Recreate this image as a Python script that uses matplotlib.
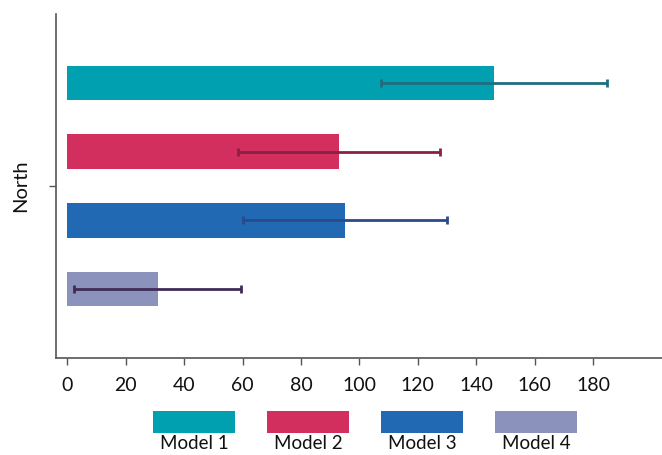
import matplotlib
matplotlib.use("Agg")
import matplotlib.pyplot as plt
from matplotlib.patches import Rectangle

plt.rcParams['font.family'] = ['Lato', 'DejaVu Sans']

category = "North"
models = ["Model 1", "Model 2", "Model 3", "Model 4"]
values = [146, 93, 95, 31]
errors = [38.7, 34.6, 35, 28.6]
bar_colors = ["#00A0B0", "#D22E5E", "#2169B3", "#8B93BC"]
err_colors = ["#1F6E7E", "#8B2046", "#2C4A8A", "#3F2B55"]
xticks = [0, 20, 40, 60, 80, 100, 120, 140, 160, 180]

fig = plt.figure(figsize=(6.62, 4.55), dpi=100)
ax = fig.add_axes([56/662, 1-358/455, 1-56/662, (358-14)/455])

offsets = [0.3, 0.1, -0.1, -0.3]
for m, v, e, c, ec, o in zip(models, values, errors, bar_colors, err_colors, offsets):
    ax.barh(o, v, height=0.1, color=c, label=m)
    ax.errorbar(v, o, xerr=e, fmt='none', ecolor=ec, elinewidth=2, capsize=3, capthick=2)

ax.set_ylim(-0.5, 0.5)
ax.set_xlim(-3.9, 203.6)
ax.set_yticks([0])
ax.set_yticklabels([category], rotation=90, va='center', fontsize=14.5)
ax.set_xticks(xticks)
ax.set_xticklabels([str(t) for t in xticks], fontsize=14)
for s in ['top', 'right']:
    ax.spines[s].set_visible(False)
for s in ['left', 'bottom']:
    ax.spines[s].set_color('#555555')
    ax.spines[s].set_linewidth(1.2)
ax.tick_params(axis='both', colors='#555555', labelcolor='#111111', length=5, width=1)
ax.tick_params(axis='x', pad=9)
ax.tick_params(axis='y', pad=14)

# legend: patches with labels below
pw, ph = 82/662, 22/455
x0 = 153/662
step = 114/662
ytop = 1 - 411/455
for i, (m, c) in enumerate(zip(models, bar_colors)):
    x = x0 + i*step
    fig.add_artist(Rectangle((x, ytop - ph), pw, ph, transform=fig.transFigure,
                             facecolor=c, edgecolor='none'))
    fig.text(x + pw/2, ytop - ph - 2/455, m, ha='center', va='top', fontsize=13.5, color='#111111')

fig.savefig("out.png", dpi=100)
